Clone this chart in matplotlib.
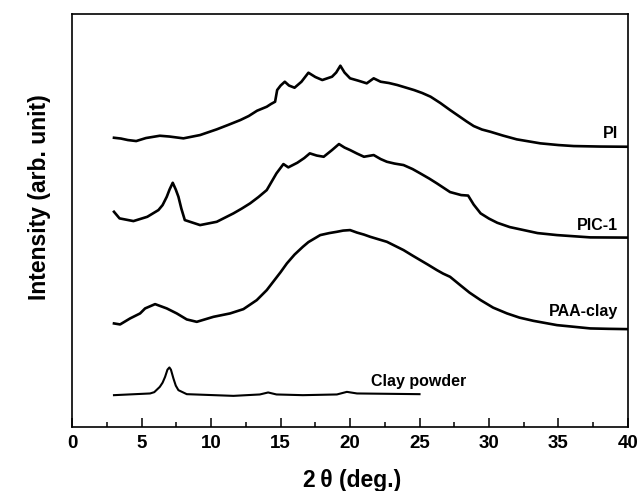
import matplotlib
matplotlib.use("Agg")
import matplotlib.pyplot as plt
from matplotlib.ticker import MultipleLocator

plt.rcParams['font.family'] = ['Liberation Sans', 'DejaVu Sans']

# ---- data (2theta in degrees, intensity in arbitrary stacked units) ----
pi_x = [3.0, 3.5, 4.0, 4.6, 5.3, 6.3, 7.0, 8.0, 9.2, 10.4, 11.2, 12.1, 12.7, 13.3, 14.0,
        14.3, 14.6, 14.75, 15.0, 15.3, 15.6, 16.0, 16.5, 17.0, 17.5, 18.0, 18.7, 19.0,
        19.3, 19.6, 20.0, 20.6, 21.2, 21.7, 22.2, 22.8, 23.4, 24.0, 24.6, 25.2, 25.8,
        26.5, 27.2, 27.9, 28.4, 28.9, 29.5, 30.1, 31.0, 32.0, 33.7, 35.0, 36.1, 38.0, 40.0]
pi_y = [288.8, 288.0, 286.5, 285.5, 288.5, 290.8, 290.0, 288.2, 291.5, 297.2, 301.5, 306.5,
        310.5, 315.8, 319.8, 322.5, 324.8, 336.5, 341.0, 344.8, 341.0, 338.8, 344.8, 353.8,
        349.5, 346.5, 349.8, 354.0, 360.8, 354.0, 348.2, 345.8, 343.2, 348.2, 344.8, 343.5,
        341.5, 339.0, 336.5, 333.5, 329.8, 323.5, 316.5, 309.8, 305.0, 300.5, 297.0, 294.8,
        291.0, 287.2, 283.2, 281.5, 280.5, 280.0, 279.8]

pic_x = [3.0, 3.4, 4.4, 5.4, 6.2, 6.5, 6.8, 7.0, 7.23, 7.45, 7.64, 7.85, 8.1, 9.2, 10.4,
         11.6, 12.2, 12.8, 13.4, 14.0, 14.7, 15.2, 15.55, 16.2, 16.7, 17.1, 17.6, 18.1,
         18.7, 19.2, 19.6, 20.0, 20.5, 21.0, 21.7, 22.2, 22.65, 23.2, 23.85, 24.5, 25.05,
         25.7, 26.25, 27.2, 28.0, 28.5, 28.9, 29.4, 30.0, 30.6, 31.5, 32.5, 33.5, 34.9,
         37.3, 40.0]
pic_y = [214.8, 208.2, 205.5, 209.8, 216.5, 221.5, 229.8, 237.0, 243.8, 237.0, 229.8, 218.0,
         206.5, 201.5, 204.8, 213.2, 218.0, 223.2, 229.5, 236.5, 253.2, 262.5, 259.2, 263.8,
         268.5, 273.2, 271.0, 269.8, 276.5, 282.5, 279.0, 276.5, 273.0, 269.8, 271.5, 267.5,
         264.8, 263.0, 261.5, 257.5, 253.2, 248.0, 243.2, 234.5, 231.5, 231.0, 222.0, 213.2,
         208.0, 203.8, 199.5, 196.5, 193.5, 191.5, 189.2, 189.0]

paa_x = [3.0, 3.44, 4.16, 4.88, 5.24, 5.96, 6.8, 7.52, 8.24, 8.96, 10.16, 11.36, 12.32, 13.28,
         14.0, 14.5, 15.0, 15.45, 16.0, 16.6, 17.0, 17.85, 18.5, 19.05, 19.5, 20.0, 20.5,
         21.0, 21.45, 22.0, 22.65, 23.2, 23.85, 24.5, 25.05, 25.6, 26.25, 26.7, 27.2, 27.93,
         28.6, 29.4, 30.3, 31.3, 32.2, 33.2, 34.9, 36.0, 37.3, 38.6, 40.0]
paa_y = [103.2, 102.2, 108.2, 113.2, 118.2, 122.5, 118.2, 113.2, 107.2, 104.8, 109.8, 113.2,
         117.5, 126.5, 136.5, 145.5, 154.5, 163.2, 172.0, 179.8, 184.5, 191.5, 193.5, 194.8,
         196.0, 196.5, 194.0, 192.0, 189.8, 187.5, 184.8, 181.0, 176.5, 171.0, 166.5, 162.0,
         156.5, 153.0, 149.8, 141.5, 134.0, 126.5, 119.0, 113.2, 109.0, 105.8, 101.5, 100.0,
         98.2, 97.8, 97.5]

clay_x = [3.0, 5.6, 5.9, 6.3, 6.5, 6.68, 6.85, 6.99, 7.1, 7.28, 7.45, 7.64, 8.24, 11.6, 13.5,
          14.1, 14.7, 16.6, 19.05, 19.77, 20.5, 25.0]
clay_y = [31.5, 33.2, 34.5, 39.8, 44.0, 49.8, 57.0, 59.2, 57.0, 48.2, 41.0, 36.5, 32.5, 30.8,
          32.2, 34.2, 32.2, 31.5, 32.2, 34.8, 33.2, 32.5]

labels = ["PI", "PIC-1", "PAA-clay", "Clay powder"]
x_ticks = [0, 5, 10, 15, 20, 25, 30, 35, 40]

fig = plt.figure(figsize=(6.4, 4.91), dpi=100)
ax = fig.add_axes([0.113, 0.131, 0.868, 0.8405])

for xs, ys, lw in [(pi_x, pi_y, 1.9), (pic_x, pic_y, 1.9), (paa_x, paa_y, 1.9),
                   (clay_x, clay_y, 1.5)]:
    ax.plot(xs, ys, color='black', linewidth=lw, solid_joinstyle='round')

lab_kw = dict(fontsize=11.5, fontweight='bold', va='center')
ax.text(39.3, 293.5, labels[0], ha='right', **lab_kw)
ax.text(39.3, 201.5, labels[1], ha='right', **lab_kw)
ax.text(39.3, 114.8, labels[2], ha='right', **lab_kw)
ax.text(21.5, 45.5, labels[3], ha='left', **lab_kw)

ax.set_xlim(0, 40)
ax.set_ylim(0, 412.5)
ax.set_xticks(x_ticks)
ax.xaxis.set_minor_locator(MultipleLocator(2.5))
ax.set_yticks([])
ax.tick_params(axis='x', which='major', direction='in', length=6.5, width=1.1,
               labelsize=13.5, pad=6, top=False)
ax.tick_params(axis='x', which='minor', direction='in', length=3.5, width=1.1, top=False)
for lbl in ax.get_xticklabels():
    lbl.set_fontweight('bold')
for sp in ax.spines.values():
    sp.set_linewidth(1.2)

fig.text(352 / 640, 1 - 481 / 491, "2\u2009θ (deg.)", ha='center', va='center',
         fontsize=16.5, fontweight='bold')
fig.text(40 / 640, 1 - 197 / 491, "Intensity (arb. unit)", ha='center', va='center',
         rotation=90, fontsize=16.5, fontweight='bold')

fig.savefig("out.png", dpi=100)
